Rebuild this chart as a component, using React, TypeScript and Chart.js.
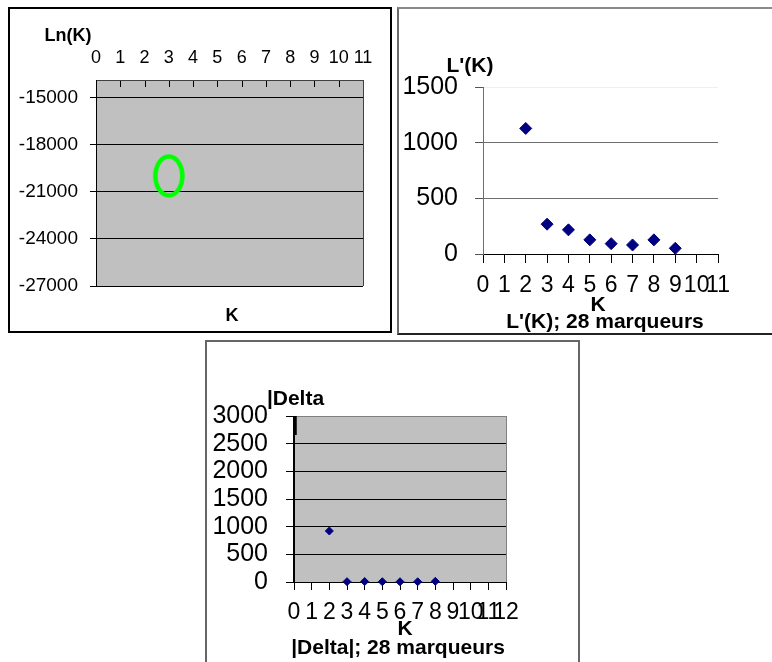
import React, { useEffect, useRef } from 'react';
import { Chart, registerables } from 'chart.js';

Chart.register(...registerables);

// ---------- Panel 1 : Ln(K) ----------
const LN_K = [3];
const LN_VALUES = [-20000];
const LN_X_TICKS = [0, 1, 2, 3, 4, 5, 6, 7, 8, 9, 10, 11];
const LN_Y_TICKS = [-27000, -24000, -21000, -18000, -15000];

// ---------- Panel 2 : L'(K) ----------
const LP_K = [2, 3, 4, 5, 6, 7, 8, 9];
const LP_VALUES = [1128, 268, 217, 127, 93, 81, 127, 51];
const LP_X_TICKS = [0, 1, 2, 3, 4, 5, 6, 7, 8, 9, 10, 11];
const LP_Y_TICKS = [0, 500, 1000, 1500];

// ---------- Panel 3 : |Delta| ----------
const DELTA_K = [2, 3, 4, 5, 6, 7, 8];
const DELTA_VALUES = [922, 6, 8, 5, 4, 4, 12];
const DELTA_X_TICKS = [0, 1, 2, 3, 4, 5, 6, 7, 8, 9, 10, 11, 12];
const DELTA_Y_TICKS = [0, 500, 1000, 1500, 2000, 2500, 3000];

const FONT = '"Liberation Sans", Arial, sans-serif';

const setTicks = (vals: number[]) => (s: any) => {
  s.ticks = vals.map((v) => ({ value: v }));
};

const plotFrame = {
  id: 'plotFrame',
  beforeDraw(chart: any, _a: any, opts: any) {
    if (!opts || !opts.fill) return;
    const a = chart.chartArea;
    const ctx = chart.ctx;
    ctx.save();
    ctx.fillStyle = opts.fill;
    ctx.fillRect(a.left, a.top, a.right - a.left, a.bottom - a.top);
    ctx.restore();
  },
  beforeDatasetsDraw(chart: any, _a: any, opts: any) {
    if (!opts) return;
    const a = chart.chartArea;
    const ctx = chart.ctx;
    ctx.save();
    const line = (x1: number, y1: number, x2: number, y2: number, e: any) => {
      ctx.strokeStyle = e.color;
      ctx.lineWidth = e.width || 1;
      ctx.beginPath();
      ctx.moveTo(x1, y1);
      ctx.lineTo(x2, y2);
      ctx.stroke();
    };
    const off = (w: number) => ((w || 1) % 2 === 1 ? 0.5 : 0);
    const L = Math.round(a.left), R = Math.round(a.right), T = Math.round(a.top), B = Math.round(a.bottom);
    if (opts.innerTicks) {
      const xs = chart.scales.x;
      for (const t of xs.ticks) {
        const px = Math.round(xs.getPixelForValue(t.value)) + 0.5;
        line(px, T, px, T + opts.innerTicks.length, opts.innerTicks);
      }
    }
    if (opts.top) line(L, T + off(opts.top.width), R, T + off(opts.top.width), opts.top);
    if (opts.bottom) line(L, B + off(opts.bottom.width), R, B + off(opts.bottom.width), opts.bottom);
    if (opts.right) line(R + off(opts.right.width), T, R + off(opts.right.width), B, opts.right);
    if (opts.left) line(L + off(opts.left.width), T, L + off(opts.left.width), B, opts.left);
    ctx.restore();
  },
};

function makeEllipse() {
  const c = document.createElement('canvas');
  c.width = 36;
  c.height = 48;
  const g = c.getContext('2d')!;
  g.strokeStyle = '#00FF00';
  g.lineWidth = 4.5;
  g.beginPath();
  g.ellipse(18, 24, 13.5, 19.5, 0, 0, Math.PI * 2);
  g.stroke();
  return c;
}

const numLabel = (v: any) => String(v);

function lnConfig(): any {
  return {
    type: 'scatter',
    data: {
      datasets: [
        {
          data: LN_K.map((k, i) => ({ x: k, y: LN_VALUES[i] })),
          pointStyle: makeEllipse(),
          pointRadius: 16,
          clip: false,
        },
      ],
    },
    plugins: [plotFrame],
    options: {
      animation: false,
      responsive: false,
      maintainAspectRatio: false,
      layout: { padding: { left: 0, top: 0, right: 27, bottom: 45 } },
      plugins: {
        legend: { display: false },
        tooltip: { enabled: false },
        plotFrame: {
          fill: '#C0C0C0',
          top: { color: '#404040', width: 1 },
          right: { color: '#404040', width: 1 },
          bottom: { color: '#000', width: 1 },
          left: { color: '#000', width: 1 },
          innerTicks: { color: '#000', width: 1, length: 7 },
        },
      },
      scales: {
        x: {
          type: 'linear',
          position: 'top',
          min: 0,
          max: 11,
          afterBuildTicks: setTicks(LN_X_TICKS),
          afterFit: (s: any) => { s.height = 71; },
          grid: { drawOnChartArea: false, drawTicks: false },
          border: { display: false },
          ticks: { color: '#000', font: { family: FONT, size: 18 }, padding: 11, autoSkip: false, maxRotation: 0, minRotation: 0, callback: numLabel },
        },
        y: {
          type: 'linear',
          min: -27000,
          max: -13900,
          afterBuildTicks: setTicks(LN_Y_TICKS),
          afterFit: (s: any) => { s.width = 86; },
          grid: { color: '#000', tickColor: '#000', tickLength: 6 },
          border: { display: false },
          ticks: { color: '#000', font: { family: FONT, size: 19 }, padding: 12, autoSkip: false, callback: numLabel },
        },
      },
    },
  };
}

function lpConfig(): any {
  return {
    type: 'scatter',
    data: {
      datasets: [
        {
          data: LP_K.map((k, i) => ({ x: k, y: LP_VALUES[i] })),
          pointStyle: 'rectRot',
          pointRadius: 6,
          backgroundColor: '#000080',
          borderColor: '#000080',
          borderWidth: 1,
          clip: false,
        },
      ],
    },
    plugins: [plotFrame],
    options: {
      animation: false,
      responsive: false,
      maintainAspectRatio: false,
      layout: { padding: { left: 0, top: 78, right: 54, bottom: 19 } },
      plugins: {
        legend: { display: false },
        tooltip: { enabled: false },
        plotFrame: {},
      },
      scales: {
        x: {
          type: 'linear',
          min: 0,
          max: 11,
          afterBuildTicks: setTicks(LP_X_TICKS),
          afterFit: (s: any) => { s.height = 60; },
          grid: { drawOnChartArea: false, color: '#000', tickLength: 9 },
          border: { color: '#000', width: 1 },
          ticks: { color: '#000', font: { family: FONT, size: 23 }, padding: 9, autoSkip: false, maxRotation: 0, minRotation: 0, callback: numLabel },
        },
        y: {
          type: 'linear',
          min: 0,
          max: 1500,
          afterBuildTicks: setTicks(LP_Y_TICKS),
          afterFit: (s: any) => { s.width = 84; },
          grid: {
            color: (c: any) => (c.tick && c.tick.value === 1500 ? '#eeeeee' : c.tick && c.tick.value === 0 ? '#000' : '#6e6e6e'),
            tickColor: '#555',
            tickLength: 8,
          },
          border: { color: '#6e6e6e', width: 1 },
          ticks: { color: '#000', font: { family: FONT, size: 25 }, padding: 17, autoSkip: false, callback: numLabel },
        },
      },
    },
  };
}

function deltaConfig(): any {
  return {
    type: 'scatter',
    data: {
      datasets: [
        {
          data: DELTA_K.map((k, i) => ({ x: k, y: DELTA_VALUES[i] })),
          pointStyle: 'rectRot',
          pointRadius: 4,
          backgroundColor: '#000080',
          borderColor: '#000080',
          borderWidth: 1,
          clip: false,
        },
      ],
    },
    plugins: [plotFrame],
    options: {
      animation: false,
      responsive: false,
      maintainAspectRatio: false,
      layout: { padding: { left: 0, top: 74, right: 72, bottom: 30 } },
      plugins: {
        legend: { display: false },
        tooltip: { enabled: false },
        plotFrame: {
          fill: '#C0C0C0',
          top: { color: '#808080', width: 1 },
          right: { color: '#808080', width: 1 },
          left: { color: '#000', width: 2 },
        },
      },
      scales: {
        x: {
          type: 'linear',
          min: 0,
          max: 12,
          afterBuildTicks: setTicks(DELTA_X_TICKS),
          afterFit: (s: any) => { s.height = 50; },
          grid: { drawOnChartArea: false, color: '#000', tickLength: 8 },
          border: { color: '#000', width: 1 },
          ticks: { color: '#000', font: { family: FONT, size: 23 }, padding: 9, autoSkip: false, maxRotation: 0, minRotation: 0, callback: numLabel },
        },
        y: {
          type: 'linear',
          min: 0,
          max: 3000,
          afterBuildTicks: setTicks(DELTA_Y_TICKS),
          afterFit: (s: any) => { s.width = 87; },
          grid: { color: '#000', tickColor: '#000', tickLength: 8 },
          border: { display: false },
          ticks: { color: '#000', font: { family: FONT, size: 25 }, padding: 18, autoSkip: false, callback: numLabel },
        },
      },
    },
  };
}

type BoxProps = { left: number; top: number; width: number; height: number; make: () => any };

function ChartBox({ left, top, width, height, make }: BoxProps) {
  const ref = useRef<HTMLCanvasElement>(null);
  useEffect(() => {
    const chart = new Chart(ref.current as HTMLCanvasElement, make());
    return () => chart.destroy();
  }, []);
  return (
    <canvas
      ref={ref}
      width={width}
      height={height}
      style={{ position: 'absolute', left, top, width, height }}
    />
  );
}

function Label({ x, y, size, text, lh }: { x: number; y: number; size: number; text: string; lh?: number }) {
  return (
    <div
      style={{
        position: 'absolute',
        left: x,
        top: y,
        transform: 'translate(-50%, -50%)',
        font: `bold ${size}px ${FONT}`,
        lineHeight: lh ? `${lh}px` : 'normal',
        whiteSpace: 'pre',
        textAlign: 'center',
        color: '#000',
      }}
    >
      {text}
    </div>
  );
}

export default function App() {
  return (
    <div style={{ position: 'absolute', left: 0, top: 0, width: 772, height: 662, overflow: 'hidden', background: '#fff' }}>
      {/* Panel 1 */}
      <div style={{ position: 'absolute', left: 8, top: 7, width: 384, height: 326, boxSizing: 'border-box', border: '2px solid #000' }} />
      <ChartBox left={10} top={9} width={380} height={322} make={lnConfig} />
      <Label x={68} y={35} size={18} text="Ln(K)" />
      <Label x={232} y={315} size={18} text="K" />

      {/* Panel 2 */}
      <div
        style={{
          position: 'absolute', left: 397, top: 7, width: 400, height: 328, boxSizing: 'border-box',
          borderLeft: '2px solid #6a6a6a', borderTop: '2px solid #8a8a8a', borderBottom: '2px solid #222',
        }}
      />
      <ChartBox left={399} top={9} width={373} height={324} make={lpConfig} />
      <Label x={470} y={65} size={21} text="L'(K)" />
      <Label x={598} y={304} size={21} text="K" />
      <Label x={605} y={321} size={21} text="L'(K); 28 marqueurs" />

      {/* Panel 3 */}
      <div
        style={{
          position: 'absolute', left: 205, top: 340, width: 375, height: 340, boxSizing: 'border-box',
          border: '2px solid #666',
        }}
      />
      <ChartBox left={207} top={342} width={371} height={320} make={deltaConfig} />
      <Label x={295.5} y={411} size={21} lh={26} text={'|Delta\n|'} />
      <Label x={405} y={628} size={21} text="K" />
      <Label x={398} y={647} size={21} text="|Delta|; 28 marqueurs" />
    </div>
  );
}
